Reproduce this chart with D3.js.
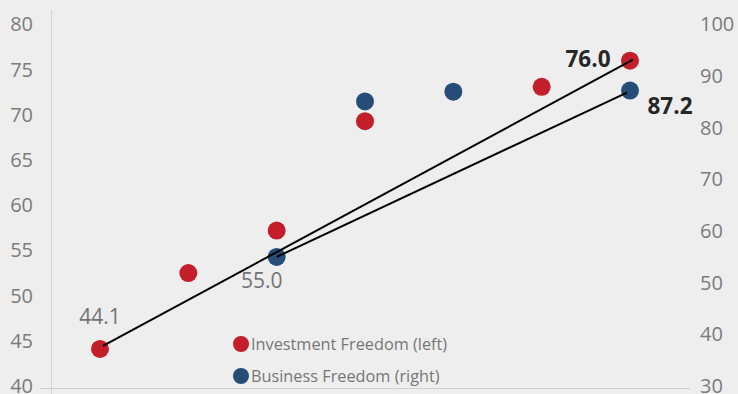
<!DOCTYPE html>
<html>
<head>
<meta charset="utf-8">
<script src="https://cdn.jsdelivr.net/npm/d3@7"></script>
<style>
  html, body { margin: 0; padding: 0; background: #eeeeee; }
  svg { display: block; }
  text { font-family: "Open Sans", "Noto Sans", sans-serif; }
</style>
</head>
<body>
<svg id="chart" width="738" height="394"></svg>
<script>
// Seven observation periods (no category labels are shown)
const periods = ["p1", "p2", "p3", "p4", "p5", "p6", "p7"];
// Investment Freedom, left axis (null = no observation)
const investment = [44.1, 52.5, 57.2, 69.3, null, 73.1, 76.0];
// Business Freedom, right axis
const business = [null, null, 55.0, 85.1, 87.0, null, 87.2];
const leftTicks = [40, 45, 50, 55, 60, 65, 70, 75, 80];
const rightTicks = [30, 40, 50, 60, 70, 80, 90, 100];
const seriesNames = ["Investment Freedom (left)", "Business Freedom (right)"];

const W = 738, H = 394;
const RED = "#c21f2a", BLUE = "#264d77";
const svg = d3.select("#chart");

svg.append("rect").attr("width", W).attr("height", H).attr("fill", "#eeeeee");

const x = d3.scalePoint().domain(periods).range([100, 630]);
const yL = d3.scaleLinear().domain([40, 80]).range([386, 24.5]);
const yR = d3.scaleLinear().domain([30, 100]).range([386, 24.5]);

// Frame lines
svg.append("line").attr("x1", 51.5).attr("x2", 51.5).attr("y1", 10).attr("y2", H)
  .attr("stroke", "#d4d4d4").attr("stroke-width", 1);
svg.append("line").attr("x1", 40).attr("x2", 690).attr("y1", 388.5).attr("y2", 388.5)
  .attr("stroke", "#cfcfcf").attr("stroke-width", 1);

// Axes (labels only)
const axisL = svg.append("g").attr("transform", "translate(33,0)")
  .call(d3.axisLeft(yL).tickValues(leftTicks).tickSize(0).tickPadding(0));
const axisR = svg.append("g").attr("transform", "translate(700,0)")
  .call(d3.axisRight(yR).tickValues(rightTicks).tickSize(0).tickPadding(0));
[axisL, axisR].forEach(g => {
  g.select(".domain").remove();
  g.selectAll("text").attr("fill", "#7b7b7b").style("font-size", "20px")
    .style("font-family", "'Open Sans', sans-serif");
});

// Points
const R = 9;
const inv = periods.map((p, i) => ({ p, v: investment[i] })).filter(d => d.v != null);
const bus = periods.map((p, i) => ({ p, v: business[i] })).filter(d => d.v != null);

svg.append("g").selectAll("circle").data(inv).join("circle")
  .attr("cx", d => x(d.p)).attr("cy", d => yL(d.v)).attr("r", R).attr("fill", RED);
svg.append("g").selectAll("circle").data(bus).join("circle")
  .attr("cx", d => x(d.p)).attr("cy", d => yR(d.v)).attr("r", R).attr("fill", BLUE);

// Connectors between first and latest observation of each series
const invFirst = inv[0], invLast = inv[inv.length - 1];
const busFirst = bus[0], busLast = bus[bus.length - 1];
const lines = svg.append("g").attr("stroke", "#000").attr("stroke-width", 2);
lines.append("line")
  .attr("x1", x(invFirst.p) + 3).attr("y1", yL(invFirst.v) - 3)
  .attr("x2", x(invLast.p) + 3).attr("y2", yL(invLast.v) - 1);
lines.append("line")
  .attr("x1", x(busFirst.p)).attr("y1", yR(busFirst.v))
  .attr("x2", x(busLast.p) - 3).attr("y2", yR(busLast.v) + 2);

// Value labels
const lab = svg.append("g");
lab.append("text").attr("x", x(invFirst.p)).attr("y", yL(invFirst.v) - 32).attr("dy", "0.35em")
  .attr("text-anchor", "middle").attr("fill", "#737373").style("font-size", "21px")
  .text(invFirst.v.toFixed(1));
lab.append("text").attr("x", x(busFirst.p) - 15).attr("y", yR(busFirst.v) + 24).attr("dy", "0.35em")
  .attr("text-anchor", "middle").attr("fill", "#737373").style("font-size", "21px")
  .text(busFirst.v.toFixed(1));
lab.append("text").attr("x", x(invLast.p) - 42).attr("y", yL(invLast.v) - 2).attr("dy", "0.35em")
  .attr("text-anchor", "middle").attr("fill", "#262626").attr("font-weight", "bold")
  .style("font-size", "22.5px").text(invLast.v.toFixed(1));
lab.append("text").attr("x", x(busLast.p) + 40).attr("y", yR(busLast.v) + 16).attr("dy", "0.35em")
  .attr("text-anchor", "middle").attr("fill", "#262626").attr("font-weight", "bold")
  .style("font-size", "22.5px").text(busLast.v.toFixed(1));

// Legend
const leg = svg.append("g").attr("transform", "translate(241,344)");
seriesNames.forEach((name, i) => {
  const g = leg.append("g").attr("transform", `translate(0,${i * 32})`);
  g.append("circle").attr("r", 8).attr("fill", i === 0 ? RED : BLUE);
  g.append("text").attr("x", 10).attr("dy", "0.35em").attr("fill", "#767676")
    .style("font-size", "16.3px").text(name);
});
</script>
</body>
</html>
